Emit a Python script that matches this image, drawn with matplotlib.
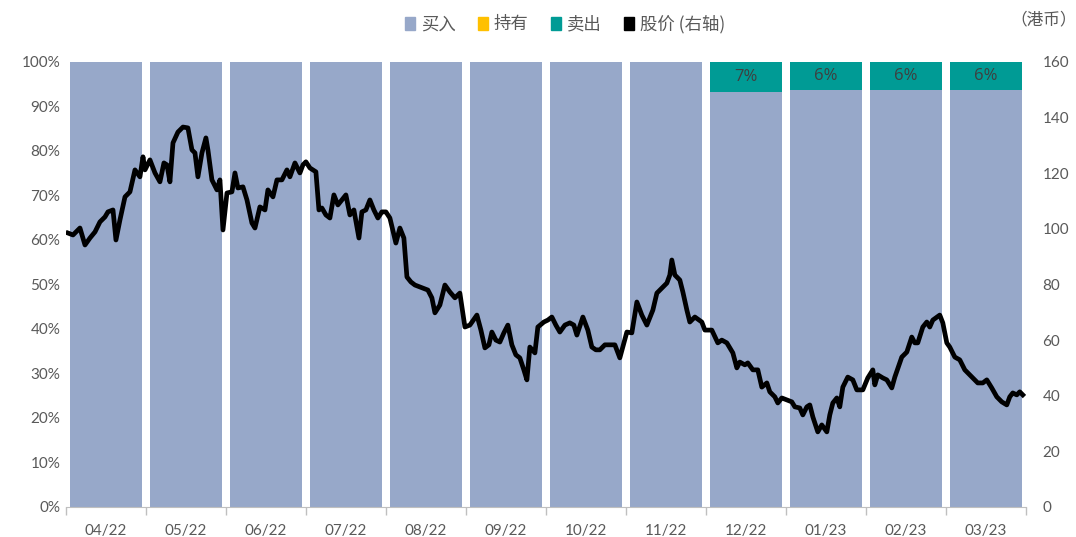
import numpy as np
import matplotlib
matplotlib.use("Agg")
import matplotlib.pyplot as plt
from matplotlib.patches import Patch

plt.rcParams['font.family'] = ['Lato', 'Noto Sans CJK SC', 'DejaVu Sans']

# monthly rating distribution (%)
months = ['04/22', '05/22', '06/22', '07/22', '08/22', '09/22',
          '10/22', '11/22', '12/22', '01/23', '02/23', '03/23']
buy = [100, 100, 100, 100, 100, 100, 100, 100, 93.3, 93.7, 93.8, 93.6]
hold = [0, 0, 0, 0, 0, 0, 0, 0, 0, 0, 0, 0]
sell = [0, 0, 0, 0, 0, 0, 0, 0, 6.7, 6.3, 6.2, 6.4]

# share price (HKD), time in months since start of 04/22
price_t = [0.025, 0.088, 0.175, 0.238, 0.3, 0.363, 0.425, 0.488, 0.525, 0.588,
           0.625, 0.675, 0.738, 0.8, 0.863, 0.925, 0.963, 0.988, 1.05, 1.113,
           1.175, 1.225, 1.263, 1.3, 1.338, 1.4, 1.463, 1.525, 1.575, 1.613,
           1.65, 1.7, 1.75, 1.775, 1.825, 1.888, 1.925, 1.963, 2.013, 2.075,
           2.113, 2.15, 2.213, 2.263, 2.325, 2.363, 2.425, 2.488, 2.525, 2.588,
           2.638, 2.7, 2.763, 2.8, 2.863, 2.925, 2.963, 3.0, 3.05, 3.125,
           3.163, 3.2, 3.25, 3.3, 3.35, 3.4, 3.45, 3.5, 3.55, 3.6,
           3.663, 3.7, 3.75, 3.8, 3.85, 3.9, 3.95, 4.0, 4.05, 4.125,
           4.175, 4.225, 4.263, 4.313, 4.363, 4.425, 4.525, 4.575, 4.613, 4.675,
           4.738, 4.8, 4.863, 4.925, 4.988, 5.05, 5.138, 5.188, 5.238, 5.288,
           5.325, 5.375, 5.425, 5.475, 5.525, 5.575, 5.625, 5.675, 5.725, 5.763,
           5.8, 5.863, 5.9, 5.975, 6.025, 6.075, 6.125, 6.175, 6.238, 6.3,
           6.35, 6.388, 6.463, 6.525, 6.575, 6.625, 6.675, 6.738, 6.8, 6.863,
           6.925, 7.013, 7.075, 7.138, 7.2, 7.263, 7.338, 7.388, 7.45, 7.513,
           7.55, 7.575, 7.613, 7.675, 7.713, 7.763, 7.8, 7.863, 7.95, 7.988,
           8.075, 8.15, 8.2, 8.263, 8.338, 8.388, 8.425, 8.488, 8.525, 8.588,
           8.65, 8.7, 8.763, 8.8, 8.863, 8.9, 8.95, 9.013, 9.075, 9.113,
           9.175, 9.213, 9.263, 9.3, 9.338, 9.4, 9.45, 9.513, 9.55, 9.588,
           9.638, 9.675, 9.713, 9.775, 9.838, 9.888, 9.963, 10.025, 10.088, 10.113,
           10.15, 10.213, 10.263, 10.325, 10.363, 10.45, 10.513, 10.575, 10.613, 10.65,
           10.713, 10.763, 10.8, 10.838, 10.925, 10.963, 11.013, 11.05, 11.113, 11.175,
           11.238, 11.3, 11.338, 11.4, 11.463, 11.513, 11.575, 11.638, 11.7, 11.763,
           11.8, 11.838, 11.888, 11.925, 11.963]
price = [98.5, 97.8, 100.3, 94.2, 96.7, 98.9, 102.5, 104.3, 106.1, 106.8,
         96.0, 103.2, 111.5, 113.3, 121.2, 118.7, 125.9, 121.2, 124.8, 120.1,
         116.9, 123.7, 123.0, 116.9, 130.9, 134.8, 136.6, 136.3, 128.4, 127.3,
         118.7, 127.3, 132.7, 128.4, 117.6, 114.0, 117.6, 99.6, 112.9, 113.3,
         120.1, 114.7, 115.1, 110.4, 102.1, 100.3, 107.9, 106.8, 114.0, 111.5,
         117.6, 117.6, 121.2, 118.7, 123.7, 120.1, 123.0, 124.1, 121.9, 120.5,
         106.8, 107.5, 105.0, 103.9, 112.2, 108.6, 110.4, 112.2, 105.0, 106.8,
         96.7, 106.1, 106.8, 110.4, 106.8, 103.9, 106.1, 106.1, 103.9, 94.9,
         100.3, 96.7, 82.7, 80.9, 79.8, 79.1, 78.0, 75.2, 69.8, 72.6,
         79.8, 77.3, 75.2, 76.9, 64.7, 65.4, 69.0, 63.6, 57.2, 58.3,
         62.9, 60.0, 59.3, 62.6, 65.4, 58.3, 54.7, 53.6, 49.3, 45.7,
         57.5, 55.4, 64.7, 66.5, 67.2, 68.3, 65.4, 62.9, 65.4, 66.2,
         65.4, 61.8, 68.3, 63.6, 57.5, 56.5, 56.5, 58.3, 58.3, 58.3,
         53.6, 62.9, 62.6, 73.7, 69.0, 65.4, 70.8, 76.9, 78.7, 80.5,
         83.4, 88.8, 83.4, 81.6, 77.3, 70.8, 66.5, 68.3, 66.5, 63.6,
         63.6, 59.0, 60.0, 59.0, 55.4, 50.0, 52.1, 51.1, 51.8, 49.3,
         49.3, 43.1, 44.6, 41.4, 39.6, 37.4, 39.2, 38.5, 37.8, 36.0,
         35.6, 33.1, 36.0, 36.7, 32.4, 27.0, 29.5, 27.0, 33.1, 37.4,
         39.2, 36.0, 43.1, 46.7, 45.7, 42.1, 42.1, 46.4, 49.3, 43.9,
         47.5, 46.4, 45.7, 42.8, 46.7, 53.9, 55.7, 61.1, 59.0, 59.0,
         64.7, 66.5, 64.7, 67.2, 69.0, 66.2, 59.0, 57.5, 53.9, 52.9,
         49.3, 47.5, 46.4, 44.6, 44.6, 45.7, 42.8, 39.6, 37.8, 36.7,
         39.6, 41.0, 40.3, 41.4, 40.3]

c_buy = '#97A8C9'
c_hold = '#FFC000'
c_sell = '#009B95'
gray = '#595959'

fig = plt.figure(figsize=(10.76, 5.37), dpi=100)
ax = fig.add_axes([0.0613, 0.0559, 0.892, 0.8287])
x = np.arange(len(months))
buy = np.array(buy)
hold = np.array(hold)
sell = np.array(sell)

ax.bar(x, buy, width=0.9, color=c_buy, zorder=1)
ax.bar(x, hold, width=0.9, bottom=buy, color=c_hold, zorder=1)
ax.bar(x, sell, width=0.9, bottom=buy + hold, color=c_sell, zorder=1)
for i, v in enumerate(sell):
    if v > 0:
        ax.text(x[i], buy[i] + hold[i] + v / 2, f"{round(v):.0f}%", ha='center',
                va='center', fontsize=12, color='#3F3F3F', zorder=3,
                family=['Open Sans'])

ax.set_xlim(-0.5, len(months) - 0.5)
ax.set_ylim(0, 100)
ax.set_yticks(np.arange(0, 101, 10))
ax.set_yticklabels([f"{v}%" for v in range(0, 101, 10)])
ax.set_xticks(x)
ax.set_xticklabels(months)
ax.set_xticks(np.arange(-0.5, len(months), 1), minor=True)
ax.tick_params(axis='x', which='major', length=0, pad=12, labelsize=11, labelcolor=gray)
ax.tick_params(axis='x', which='minor', length=6, color='#BFBFBF', width=1)
ax.tick_params(axis='y', length=0, labelsize=11, labelcolor=gray, pad=4)
for s in ['top', 'right', 'left']:
    ax.spines[s].set_visible(False)
ax.spines['bottom'].set_color('#BFBFBF')

ax2 = ax.twinx()
ax2.plot(np.array(price_t) - 0.5, price, color='black', lw=3.4, zorder=4,
         solid_joinstyle='round')
ax2.set_ylim(0, 160)
ax2.set_yticks(np.arange(0, 161, 20))
ax2.tick_params(axis='y', length=0, labelsize=11, labelcolor=gray, pad=12)
for s in ['top', 'right', 'left', 'bottom']:
    ax2.spines[s].set_visible(False)

handles = [Patch(color=c_buy), Patch(color=c_hold), Patch(color=c_sell), Patch(color='black')]
labels = ['买入', '持有', '卖出', '股价 (右轴)']
fig.legend(handles, labels, loc='center', bbox_to_anchor=(0.525, 0.955), ncol=4,
           frameon=False, labelcolor=gray, handlelength=0.6,
           handleheight=0.75, handletextpad=0.3, columnspacing=1.3,
           prop={'family': ['Noto Sans CJK SC'], 'size': 12.5})
fig.text(0.97, 0.962, '（港币）', ha='center', va='center', fontsize=12,
         color=gray, family=['Noto Sans CJK SC'])

fig.savefig('out.png', dpi=100)
